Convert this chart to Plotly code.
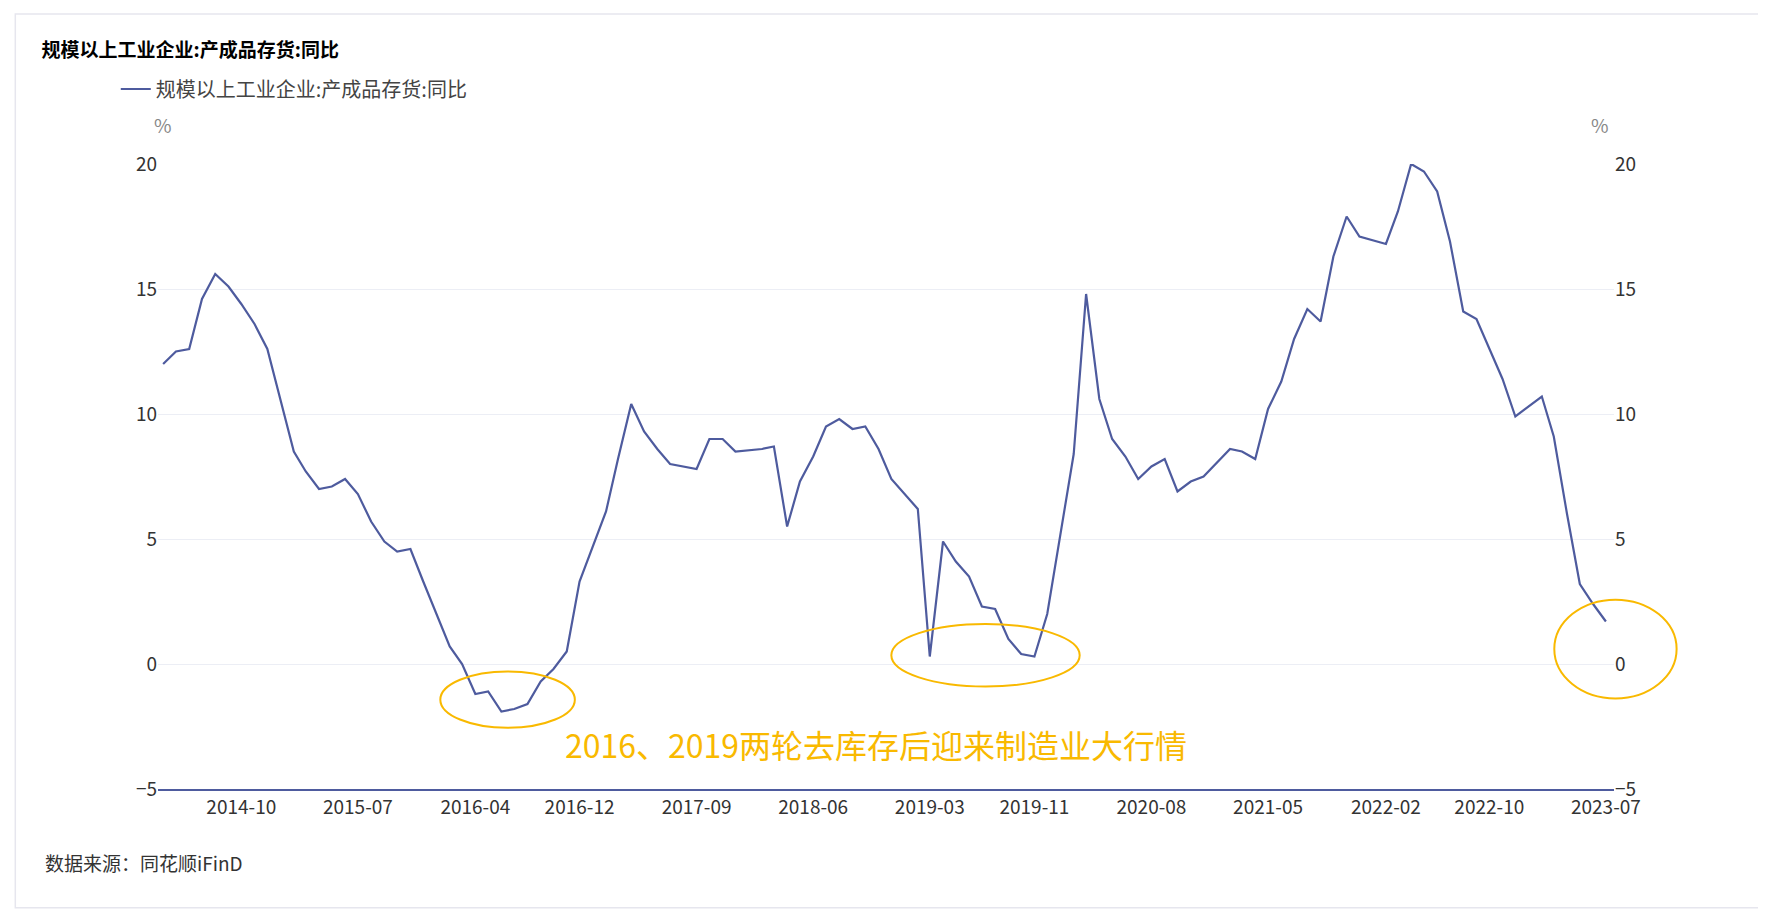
import pandas as pd
import plotly.graph_objects as go

# monthly values, January omitted (Jan-Feb reported together)
v2014 = [12.0, 12.5, 12.6, 14.6, 15.6, 15.1, 14.4, 13.6, 12.6]  # Apr-Dec
v2015 = [8.5, 7.7, 7.0, 7.1, 7.4, 6.8, 5.7, 4.9, 4.5, 4.6, 3.3]
v2016 = [0.7, 0.0, -1.2, -1.1, -1.9, -1.8, -1.6, -0.7, -0.2, 0.5, 3.3]
v2017 = [6.1, 8.2, 10.4, 9.3, 8.6, 8.0, 7.9, 7.8, 9.0, 9.0, 8.5]
v2018 = [8.6, 8.7, 5.5, 7.3, 8.3, 9.5, 9.8, 9.4, 9.5, 8.6, 7.4]
v2019 = [6.2, 0.3, 4.9, 4.1, 3.5, 2.3, 2.2, 1.0, 0.4, 0.3, 2.0]
v2020 = [8.4, 14.8, 10.6, 9.0, 8.3, 7.4, 7.9, 8.2, 6.9, 7.3, 7.5]
v2021 = [8.6, 8.5, 8.2, 10.2, 11.3, 13.0, 14.2, 13.7, 16.3, 17.9, 17.1]
v2022 = [16.8, 18.1, 20.0, 19.7, 18.9, 16.9, 14.1, 13.8, 12.6, 11.4, 9.9]
v2023 = [10.7, 9.1, 6.0, 3.2, 2.4, 1.7]  # Feb-Jul

tick_labels = ["2014-10", "2015-07", "2016-04", "2016-12", "2017-09", "2018-06",
               "2019-03", "2019-11", "2020-08", "2021-05", "2022-02", "2022-10", "2023-07"]

values = v2014 + v2015 + v2016 + v2017 + v2018 + v2019 + v2020 + v2021 + v2022 + v2023
months = pd.date_range("2014-04-01", "2023-07-01", freq="MS")
months = [m for m in months if m.month != 1]
dates = [m.strftime("%Y-%m-%d") for m in months]

name = "规模以上工业企业:产成品存货:同比"
line_color = "#4E5B9E"
orange = "#F9B900"
font = "Noto Sans CJK SC"

fig = go.Figure()
fig.add_trace(go.Scatter(x=dates, y=values, mode="lines", name=name,
                         line=dict(color=line_color, width=2.2)))
fig.add_trace(go.Scatter(x=dates, y=values, yaxis="y2", mode="lines",
                         line=dict(width=0), showlegend=False, hoverinfo="skip"))

fig.update_layout(
    width=1766, height=909,
    margin=dict(l=150, r=160, t=156, b=128),
    plot_bgcolor="white", paper_bgcolor="white",
    font=dict(family=font, size=19, color="#333333"),
    title=dict(text="<b>" + name + "</b>", x=0.019, xanchor="left", y=0.953, yanchor="middle",
               font=dict(size=19, color="#000000")),
    showlegend=True,
    legend=dict(x=-0.029, y=1.12, xanchor="left", yanchor="middle", orientation="h",
                font=dict(size=20, color="#444444")),
    xaxis=dict(type="date", range=["2014-03-20", "2023-07-20"],
               tickvals=[t + "-01" for t in tick_labels], ticktext=tick_labels,
               showgrid=False, showline=True, linecolor=line_color, linewidth=1.5,
               ticks="", tickfont=dict(size=19, color="#333333")),
    yaxis=dict(range=[-5, 20], dtick=5, showgrid=True, gridcolor="#ECEEF5",
               zeroline=False, ticks="", tickfont=dict(size=19, color="#333333")),
    yaxis2=dict(range=[-5, 20], dtick=5, overlaying="y", side="right", showgrid=False,
                zeroline=False, ticks="", tickfont=dict(size=19, color="#333333")),
)

# % unit labels
fig.add_annotation(text="%", xref="paper", yref="paper", x=-0.004, y=1.088, showarrow=False,
                   font=dict(size=19, color="#888888"))
fig.add_annotation(text="%", xref="paper", yref="paper", x=0.998, y=1.088, showarrow=False,
                   font=dict(size=19, color="#888888"))
fig.add_annotation(text="2016、2019两轮去库存后迎来制造业大行情", xref="paper", yref="paper",
                   x=0.493, y=0.032, showarrow=False, font=dict(size=32, color=orange))
fig.add_annotation(text="数据来源：同花顺iFinD", xref="paper", yref="paper", x=-0.079, y=-0.143,
                   xanchor="left", showarrow=False, font=dict(size=19, color="#333333"))

# circles around the destocking troughs
fig.add_shape(type="circle", xref="x", yref="y", x0="2016-01-10", x1="2016-11-20",
              y0=-2.55, y1=-0.3, line=dict(color=orange, width=2))
fig.add_shape(type="circle", xref="x", yref="y", x0="2018-12-01", x1="2020-02-15",
              y0=-0.9, y1=1.6, line=dict(color=orange, width=2))
fig.add_shape(type="circle", xref="paper", yref="paper", x0=0.959, x1=1.043,
              y0=0.145, y1=0.303, line=dict(color=orange, width=2))
# outer frame
fig.add_shape(type="rect", xref="paper", yref="paper", x0=-0.098, x1=1.11, y0=-0.19, y1=1.24,
              line=dict(color="#E6E6EE", width=1.5))

fig.write_html("out.html")
